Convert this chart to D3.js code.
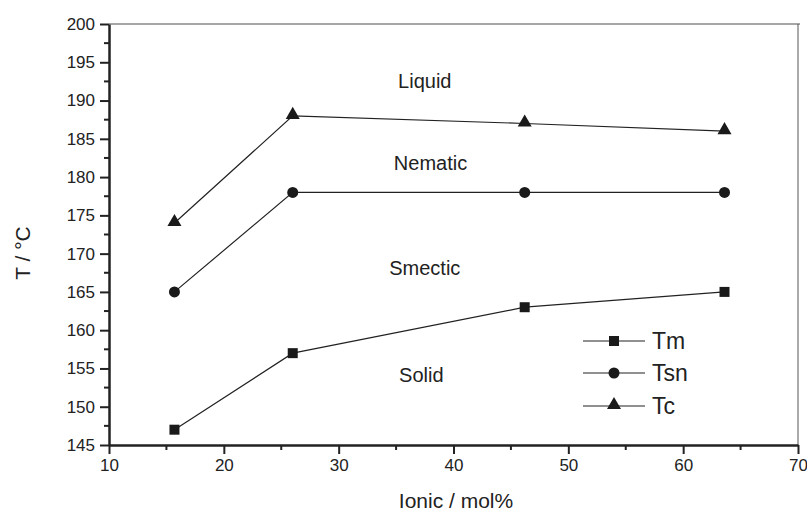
<!DOCTYPE html>
<html>
<head>
<meta charset="utf-8">
<script src="https://cdn.jsdelivr.net/npm/d3@7"></script>
<style>
  body { margin: 0; background: #fff; }
  text { font-family: "Liberation Sans", Arial, sans-serif; fill: #222; }
</style>
</head>
<body>
<div id="chart"></div>
<script>
// data
var ionic = [15.7, 26, 46.2, 63.6];
var tm = [147, 157, 163, 165];
var tsn = [165, 178, 178, 178];
var tc = [174, 188, 187, 186];
var series_names = ['Tm', 'Tsn', 'Tc'];
var x_ticks = [10, 20, 30, 40, 50, 60, 70];
var y_ticks = [145, 150, 155, 160, 165, 170, 175, 180, 185, 190, 195, 200];
var phase_labels = [
    {text: 'Liquid', x: 37.5, y: 191.7},
    {text: 'Nematic', x: 38, y: 180.9},
    {text: 'Smectic', x: 37.5, y: 167.2},
    {text: 'Solid', x: 37.2, y: 153.2}
];

var width = 807, height = 511;
var margin = {left: 109, right: 9, top: 24, bottom: 66};

var svg = d3.select('#chart').append('svg')
    .attr('width', width)
    .attr('height', height);

var x = d3.scaleLinear().domain([10, 70]).range([margin.left, width - margin.right]);
var y = d3.scaleLinear().domain([145, 200]).range([height - margin.bottom, margin.top]);

// frame (top and right are thin grey)
svg.append('line')
    .attr('x1', x(10)).attr('x2', x(70) + 2)
    .attr('y1', y(200)).attr('y2', y(200))
    .attr('stroke', '#888').attr('stroke-width', 1.3);
svg.append('line')
    .attr('x1', x(70)).attr('x2', x(70))
    .attr('y1', y(200)).attr('y2', y(145))
    .attr('stroke', '#555').attr('stroke-width', 1);

// minor ticks
var x_minor = d3.range(15, 70, 10);
var y_minor = d3.range(147.5, 200, 5);

var x_axis = svg.append('g')
    .attr('transform', 'translate(0,' + y(145) + ')')
    .call(d3.axisBottom(x).tickValues(x_ticks).tickSize(9).tickPadding(5).tickSizeOuter(0));
x_axis.selectAll('line.minor').data(x_minor).enter().append('line')
    .attr('class', 'minor')
    .attr('x1', function (d) { return x(d); }).attr('x2', function (d) { return x(d); })
    .attr('y1', 0).attr('y2', 5)
    .attr('stroke', '#222').attr('stroke-width', 2);

var y_axis = svg.append('g')
    .attr('transform', 'translate(' + x(10) + ',0)')
    .call(d3.axisLeft(y).tickValues(y_ticks).tickSize(9).tickPadding(5).tickSizeOuter(0));
y_axis.selectAll('line.minor').data(y_minor).enter().append('line')
    .attr('class', 'minor')
    .attr('y1', function (d) { return y(d); }).attr('y2', function (d) { return y(d); })
    .attr('x1', 0).attr('x2', -5)
    .attr('stroke', '#222').attr('stroke-width', 2);

[x_axis, y_axis].forEach(function (ax) {
    ax.select('.domain').attr('stroke', '#222').attr('stroke-width', 2.5);
    ax.selectAll('.tick line').attr('stroke', '#222').attr('stroke-width', 2);
    ax.selectAll('.tick text').attr('font-size', 17).style('fill', '#222')
        .attr('font-family', '"Liberation Sans", Arial, sans-serif');
});

// axis titles
svg.append('text')
    .attr('transform', 'translate(30,' + 253 + ') rotate(-90)')
    .attr('text-anchor', 'middle')
    .attr('font-size', 21)
    .text('T / \u00B0C');
svg.append('text')
    .attr('x', 456)
    .attr('y', 508)
    .attr('text-anchor', 'middle')
    .attr('font-size', 21)
    .text('Ionic / mol%');

// series
var all_series = [tm, tsn, tc];
var line = d3.line()
    .x(function (d, i) { return x(ionic[i]); })
    .y(function (d) { return y(d); });

var symbols = [d3.symbolSquare, d3.symbolCircle, d3.symbolTriangle];
var symbol_sizes = [100, 95, 85];

all_series.forEach(function (vals, s) {
    svg.append('path')
        .datum(vals)
        .attr('d', line)
        .attr('fill', 'none')
        .attr('stroke', '#222')
        .attr('stroke-width', 1.2);
    svg.selectAll('path.pt' + s).data(vals).enter().append('path')
        .attr('class', 'pt' + s)
        .attr('d', d3.symbol().type(symbols[s]).size(symbol_sizes[s]))
        .attr('transform', function (d, i) {
            var dy = s === 2 ? -1 : 0;
            return 'translate(' + x(ionic[i]) + ',' + (y(d) + dy) + ')';
        })
        .attr('fill', '#1a1a1a');
});

// phase labels
svg.selectAll('text.phase').data(phase_labels).enter().append('text')
    .attr('class', 'phase')
    .attr('x', function (d) { return x(d.x); })
    .attr('y', function (d) { return y(d.y); })
    .attr('text-anchor', 'middle')
    .attr('font-size', 20)
    .text(function (d) { return d.text; });

// legend
var legend_y = [341, 373, 406];
var legend = svg.append('g');
series_names.forEach(function (name, s) {
    var g = legend.append('g').attr('transform', 'translate(0,' + legend_y[s] + ')');
    g.append('line')
        .attr('x1', 583).attr('x2', 645)
        .attr('y1', 0).attr('y2', 0)
        .attr('stroke', '#222').attr('stroke-width', 1.2);
    g.append('path')
        .attr('d', d3.symbol().type(symbols[s]).size(symbol_sizes[s]))
        .attr('transform', 'translate(614,' + (s === 2 ? -1 : 0) + ')')
        .attr('fill', '#1a1a1a');
    g.append('text')
        .attr('x', 652)
        .attr('y', 8)
        .attr('font-size', 23)
        .text(name);
});
</script>
</body>
</html>
